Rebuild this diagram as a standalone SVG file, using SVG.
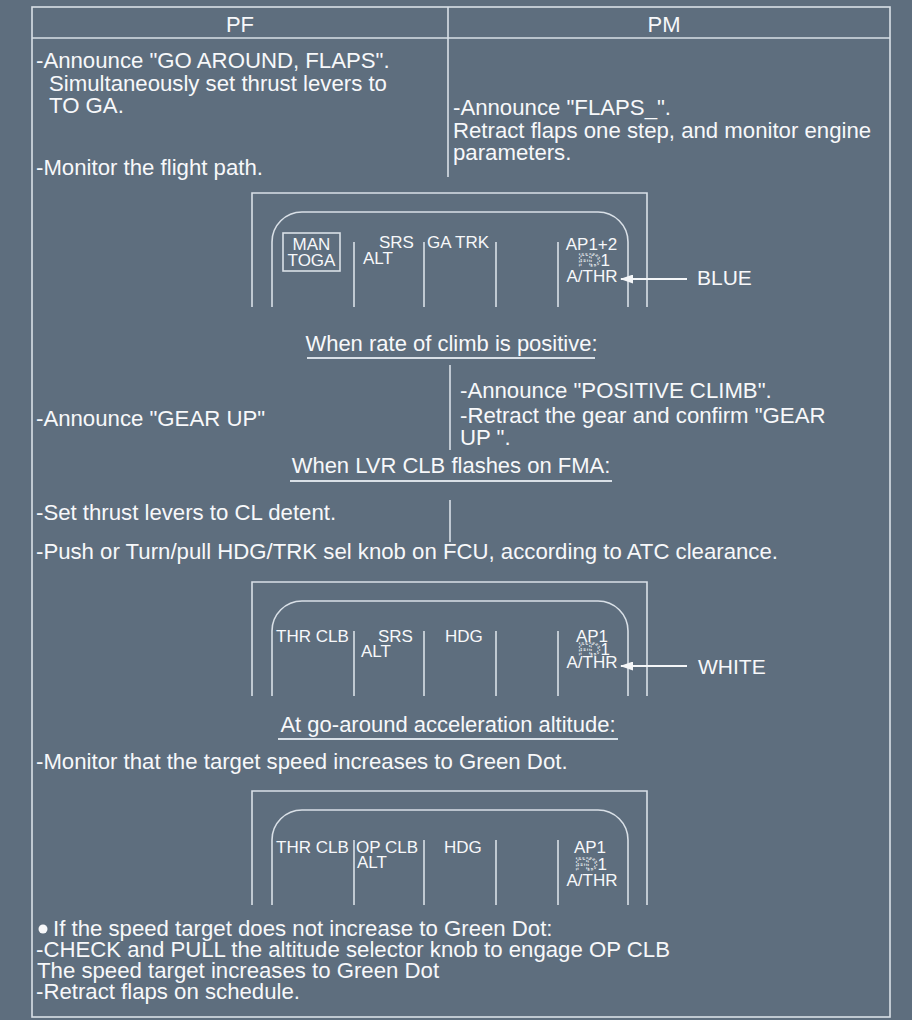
<svg xmlns="http://www.w3.org/2000/svg" width="912" height="1020" viewBox="0 0 912 1020">
<defs>
<style>
.bg{fill:#5e6e7e}
.ln{fill:none;stroke:#d9e0e7;stroke-width:1.6}
.ul{fill:none;stroke:#d9e0e7;stroke-width:2.2}
.t{font-family:"Liberation Sans",Arial,sans-serif;font-size:22.2px;fill:#f7f8fa}
.h{font-family:"Liberation Sans",Arial,sans-serif;font-size:22px;fill:#f7f8fa;text-anchor:middle}
.f{font-family:"Liberation Sans",Arial,sans-serif;font-size:17px;fill:#f7f8fa}
.fm{font-family:"Liberation Sans",Arial,sans-serif;font-size:17px;fill:#f7f8fa;text-anchor:middle}
.fd{fill:none;stroke:#e8ecf0;stroke-width:0.8;stroke-dasharray:2 1.6}
.lbl{font-family:"Liberation Sans",Arial,sans-serif;font-size:21px;fill:#f7f8fa}
.arr{fill:none;stroke:#f4f6f8;stroke-width:2}
</style>
<marker id="ah" viewBox="0 0 13 9" refX="12" refY="4.5" markerWidth="13" markerHeight="9" markerUnits="userSpaceOnUse" orient="auto">
<path d="M0,0 L13,4.5 L0,9 Z" fill="#f4f6f8"/>
</marker>
<path id="fmaframe" d="M252,114 V0 H647 V114 M272,114 V49 A30,30 0 0 1 302,19 H598 A30,30 0 0 1 628,49 V114 M354,114 V49 M424,114 V49 M496,114 V49 M558,114 V49"/>
</defs>
<rect class="bg" x="0" y="0" width="912" height="1020"/>

<g id="frame">
<rect class="ln" x="32" y="7" width="858" height="1010"/>
<line class="ln" x1="32" y1="38" x2="890" y2="38"/>
<line class="ln" x1="448" y1="7" x2="448" y2="177"/>
<text class="h" x="240" y="32">PF</text>
<text class="h" x="664" y="32">PM</text>
</g>

<g id="pf-goaround">
<text class="t" x="36" y="68">-Announce "GO AROUND, FLAPS".</text>
<text class="t" x="49" y="91">Simultaneously set thrust levers to</text>
<text class="t" x="49" y="113">TO GA.</text>
<text class="t" x="36" y="175">-Monitor the flight path.</text>
</g>

<g id="pm-goaround">
<text class="t" x="453" y="115">-Announce "FLAPS_".</text>
<text class="t" x="453" y="138">Retract flaps one step, and monitor engine</text>
<text class="t" x="453" y="160">parameters.</text>
</g>

<g id="fma1">
<use href="#fmaframe" class="ln" transform="translate(0,193)"/>
<rect class="ln" x="283" y="233" width="57" height="38"/>
<text class="fm" x="311.5" y="250">MAN</text>
<text class="fm" x="311.5" y="266">TOGA</text>
<text class="f" x="379" y="248">SRS</text>
<text class="f" x="363" y="264">ALT</text>
<text class="f" x="427" y="248">GA TRK</text>
<text class="fm" x="591.5" y="250">AP1+2</text>
<text class="fm" x="594" y="266"><tspan class="fd">FD</tspan>1</text>
<text class="fm" x="592" y="282">A/THR</text>
<text class="lbl" x="697" y="285">BLUE</text>
</g>

<g id="climb">
<text class="h" x="451.5" y="351">When rate of climb is positive:</text>
<line class="ul" x1="307" y1="358" x2="595" y2="358"/>
<line class="ln" x1="450" y1="365" x2="450" y2="450"/>
<text class="t" x="460" y="398">-Announce "POSITIVE CLIMB".</text>
<text class="t" x="36" y="426">-Announce "GEAR UP"</text>
<text class="t" x="460" y="423">-Retract the gear and confirm "GEAR</text>
<text class="t" x="460" y="445">UP ".</text>
</g>

<g id="lvrclb">
<text class="h" x="451" y="473">When LVR CLB flashes on FMA:</text>
<line class="ul" x1="290" y1="481" x2="612" y2="481"/>
<line class="ln" x1="450" y1="500" x2="450" y2="542"/>
<text class="t" x="36" y="520">-Set thrust levers to CL detent.</text>
<text class="t" x="36" y="559">-Push or Turn/pull HDG/TRK sel knob on FCU, according to ATC clearance.</text>
</g>

<g id="fma2">
<use href="#fmaframe" class="ln" transform="translate(0,582)"/>
<text class="f" x="276" y="642">THR CLB</text>
<text class="f" x="378" y="642">SRS</text>
<text class="f" x="361" y="657">ALT</text>
<text class="f" x="445" y="642">HDG</text>
<text class="fm" x="592" y="642">AP1</text>
<text class="fm" x="594" y="655"><tspan class="fd">FD</tspan>1</text>
<text class="fm" x="592" y="668">A/THR</text>
<text class="lbl" x="698" y="674">WHITE</text>
</g>

<g id="accel">
<text class="h" x="448" y="732">At go-around acceleration altitude:</text>
<line class="ul" x1="278" y1="739" x2="618" y2="739"/>
<text class="t" x="36" y="769">-Monitor that the target speed increases to Green Dot.</text>
</g>

<g id="fma3">
<use href="#fmaframe" class="ln" transform="translate(0,791)"/>
<text class="f" x="276" y="853">THR CLB</text>
<text class="f" x="356" y="853">OP CLB</text>
<text class="f" x="357" y="868">ALT</text>
<text class="f" x="444" y="853">HDG</text>
<text class="fm" x="590" y="853">AP1</text>
<text class="fm" x="591" y="870"><tspan class="fd">FD</tspan>1</text>
<text class="fm" x="592" y="886">A/THR</text>
</g>

<g id="opclb">
<circle cx="43" cy="929" r="4.5" fill="#f7f8fa"/>
<text class="t" x="53" y="936">If the speed target does not increase to Green Dot:</text>
<text class="t" x="36" y="957">-CHECK and PULL the altitude selector knob to engage OP CLB</text>
<text class="t" x="37" y="978">The speed target increases to Green Dot</text>
<text class="t" x="36" y="999">-Retract flaps on schedule.</text>
</g>

<g id="connectors">
<line class="arr" x1="687" y1="279" x2="621" y2="279" marker-end="url(#ah)"/>
<line class="arr" x1="687" y1="666" x2="621" y2="666" marker-end="url(#ah)"/>
</g>
</svg>
